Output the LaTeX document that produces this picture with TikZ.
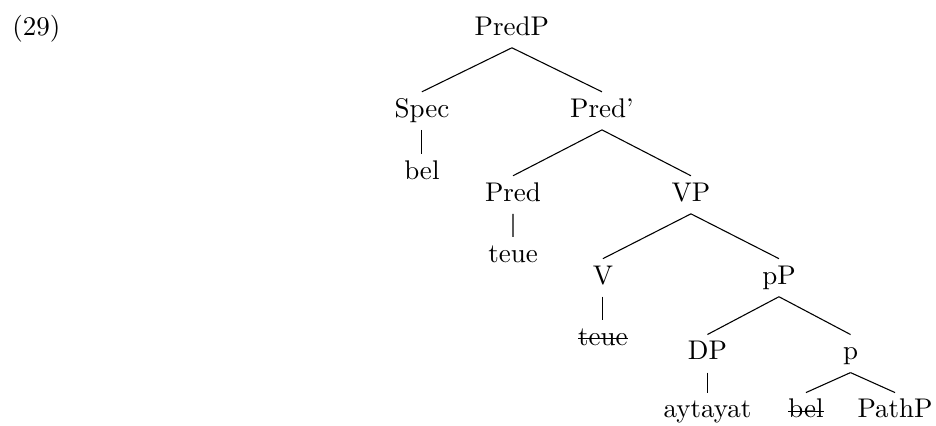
\documentclass[tikz,border=0pt]{standalone}
\usepackage{tikz}
\newcommand{\struck}[1]{\setbox0\hbox{#1}\rlap{\rule[0.5ex]{\wd0}{0.4pt}}\box0}
\tikzset{
  cat/.style   = {text height=6.9pt, text depth=2.2pt, inner sep=2.3pt},
  exnum/.style = {anchor=base west, inner sep=0pt}
}

\begin{document}
\begin{tikzpicture}
  [
  level 1/.style={sibling distance=66.7pt, level distance=30.4pt},
  level 2/.style={sibling distance=65.9pt, level distance=31.1pt},
  level 3/.style={sibling distance=65.2pt, level distance=30.7pt},
  level 4/.style={sibling distance=53pt, level distance=28.1pt},
  level 5/.style={sibling distance=33pt, level distance=21.5pt},
    edge from parent/.style = {draw},
    edge from parent path   = {(\tikzparentnode.south) -- (\tikzchildnode.north)},
    every node/.style       = {cat}
  ]
  \useasboundingbox (0,0) rectangle (346.67pt,-157.41pt);
  \node [exnum] (num) at (4.4pt,-13pt) {(29)};
  \node (predp) at (189.6pt,-10.65pt) {PredP}
    child { node (spec) {Spec}
      child [level distance=23pt] { node (bel) {bel} } }
    child { node (predbar) {Pred'}
      child { node (pred) {Pred}
        child [level distance=22.6pt] { node (teue) {teue} } }
      child { node (vp) {VP}
        child { node (v) {V}
          child [level distance=22.6pt] { node (teuecopy) {\struck{teue}} } }
        child { node (pp) {pP}
          child { node (dp) {DP}
            child { node (aytayat) {aytayat} } }
          child { node (plittle) {p}
            child { node (belcopy) {\struck{bel}} }
            child { node (pathp) {PathP} } } } } };
\end{tikzpicture}
\end{document}
